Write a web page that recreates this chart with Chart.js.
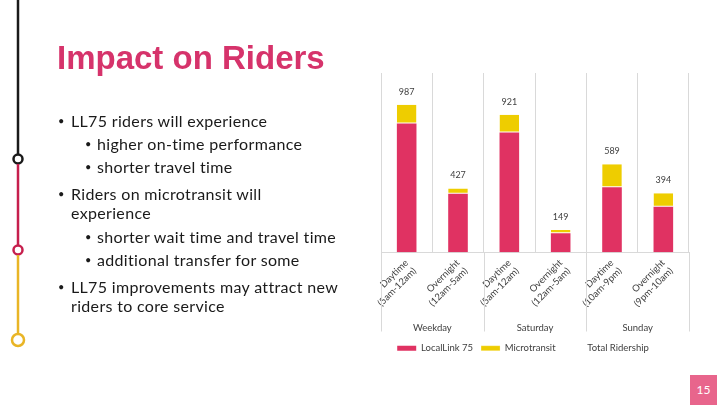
<!DOCTYPE html>
<html>
<head>
<meta charset="utf-8">
<script src="https://cdn.jsdelivr.net/npm/chart.js@4"></script>
<style>
  html,body{margin:0;padding:0;background:#fff;}
  #wrap{position:relative;width:720px;height:405px;overflow:hidden;background:#fff;}
  #c{position:absolute;left:0;top:0;}
  .title{position:absolute;left:57px;top:41px;font-family:"Liberation Sans",Arial,sans-serif;font-weight:bold;font-size:33px;color:#D6336B;white-space:nowrap;line-height:1;}
  .txt{position:absolute;font-family:Lato,"Open Sans",sans-serif;font-size:16px;letter-spacing:0.33px;color:#1a1a1a;white-space:nowrap;line-height:18.7px;}
  .dot{position:absolute;font-family:Lato,sans-serif;font-size:11px;color:#1a1a1a;}
  #page{position:absolute;left:690px;top:375px;width:27px;height:30px;background:#E8658C;color:#fff;font-family:Lato,sans-serif;font-size:12px;text-align:center;line-height:30px;}
  svg{position:absolute;left:0;top:0;}
</style>
</head>
<body>
<div id="wrap">
  <canvas id="c" width="720" height="405"></canvas>
  <svg width="40" height="405">
    <line x1="18" y1="0" x2="18" y2="154" stroke="#1a1a1a" stroke-width="2.5"/>
    <circle cx="18" cy="159" r="4.5" fill="#fff" stroke="#1a1a1a" stroke-width="2.5"/>
    <line x1="18" y1="164" x2="18" y2="245" stroke="#C61F4D" stroke-width="2.5"/>
    <circle cx="18" cy="250" r="4.5" fill="#fff" stroke="#C61F4D" stroke-width="2.5"/>
    <line x1="18" y1="255" x2="18" y2="334" stroke="#E9B526" stroke-width="2.5"/>
    <circle cx="18" cy="340" r="6" fill="#fff" stroke="#E9B526" stroke-width="2.5"/>
  </svg>
  <div class="title">Impact on Riders</div>
  <div class="dot" style="left:58px;top:114px;">•</div>
  <div class="txt" style="left:71px;top:112px;">LL75 riders will experience</div>
  <div class="dot" style="left:85px;top:137px;">•</div>
  <div class="txt" style="left:97px;top:135px;">higher on-time performance</div>
  <div class="dot" style="left:85px;top:160px;">•</div>
  <div class="txt" style="left:97px;top:158px;">shorter travel time</div>
  <div class="dot" style="left:58px;top:187px;">•</div>
  <div class="txt" style="left:71px;top:185px;">Riders on microtransit will<br>experience</div>
  <div class="dot" style="left:85px;top:230px;">•</div>
  <div class="txt" style="left:97px;top:228px;">shorter wait time and travel time</div>
  <div class="dot" style="left:85px;top:253px;">•</div>
  <div class="txt" style="left:97px;top:251px;">additional transfer for some</div>
  <div class="dot" style="left:58px;top:280px;">•</div>
  <div class="txt" style="left:71px;top:278px;">LL75 improvements may attract new<br>riders to core service</div>
  <div id="page">15</div>
</div>
<script>
const categories = [
  ['Daytime','(5am-12am)'],
  ['Overnight','(12am-5am)'],
  ['Daytime','(5am-12am)'],
  ['Overnight','(12am-5am)'],
  ['Daytime','(10am-9pm)'],
  ['Overnight','(9pm-10am)']
];
const groups = ['Weekday','Saturday','Sunday'];
const localLink = [862, 391, 802, 126, 434, 304];
const microtransit = [125, 36, 119, 23, 155, 90];
const totalRidership = [987, 427, 921, 149, 589, 394];

const GRID = '#D9D9D9';
const TXT = '#404040';
const FONT = 'Lato, "Open Sans", sans-serif';

const groupLines = {
  id: 'groupLines',
  afterDraw(chart) {
    const x = chart.scales.x, x2 = chart.scales.x2;
    const ctx = chart.ctx;
    const n = categories.length;
    const w = (x.right - x.left) / n;
    ctx.save();
    ctx.strokeStyle = GRID;
    ctx.lineWidth = 1;
    for (let k = 0; k <= n; k += 2) {
      const px = Math.round(x.left + k * w) + 0.5;
      ctx.beginPath();
      ctx.moveTo(px, chart.chartArea.bottom);
      ctx.lineTo(px, x2.bottom - 2);
      ctx.stroke();
    }
    ctx.restore();
  }
};

const legendShift = {
  id: 'legendShift',
  afterLayout(chart) {
    const lg = chart.legend;
    if (lg) { lg.left -= 12; lg.right -= 12; lg.top += 2; lg.bottom += 2; }
  }
};

const totalLabels = {
  id: 'totalLabels',
  afterDatasetsDraw(chart) {
    const x = chart.scales.x, y = chart.scales.y;
    const ctx = chart.ctx;
    const vals = chart.data.datasets[2].data;
    ctx.save();
    ctx.fillStyle = TXT;
    ctx.font = '9px ' + FONT;
    ctx.textAlign = 'center';
    ctx.textBaseline = 'middle';
    vals.forEach((v, i) => {
      ctx.fillText(String(v), x.getPixelForValue(i), y.getPixelForValue(v) - 13);
    });
    ctx.restore();
  }
};

new Chart(document.getElementById('c'), {
  type: 'bar',
  data: {
    labels: categories,
    datasets: [
      {
        label: 'LocalLink 75',
        data: localLink,
        backgroundColor: '#E03262',
        borderWidth: 0,
        categoryPercentage: 1,
        barPercentage: 0.382
      },
      {
        label: 'Microtransit',
        data: microtransit,
        backgroundColor: '#EECD00',
        borderColor: '#ffffff',
        borderWidth: {top: 0, left: 0, right: 0, bottom: 1},
        borderSkipped: false,
        categoryPercentage: 1,
        barPercentage: 0.382
      },
      {
        type: 'line',
        label: 'Total Ridership',
        data: totalRidership,
        stack: 'total',
        showLine: false,
        pointRadius: 0,
        backgroundColor: 'rgba(0,0,0,0)',
        borderColor: 'rgba(0,0,0,0)',
        borderWidth: 0
      }
    ]
  },
  options: {
    responsive: false,
    animation: false,
    devicePixelRatio: 1,
    layout: { padding: { left: 381, right: 31, top: 73, bottom: 44 } },
    plugins: {
      legend: {
        position: 'bottom',
        labels: {
          boxWidth: 19,
          boxHeight: 5,
          padding: 8,
          color: TXT,
          font: { size: 9.5, family: FONT }
        }
      },
      tooltip: { enabled: false }
    },
    scales: {
      x: {
        stacked: true,
        grid: { color: GRID, offset: true, drawTicks: false },
        border: { color: GRID },
        ticks: {
          color: TXT,
          font: { size: 9.5, family: FONT },
          maxRotation: 45,
          minRotation: 45,
          padding: 5,
          autoSkip: false
        }
      },
      x2: {
        type: 'category',
        labels: groups,
        position: 'bottom',
        grid: { display: false },
        border: { display: false },
        ticks: { color: TXT, font: { size: 9.5, family: FONT }, padding: 0 }
      },
      y: {
        stacked: true,
        display: false,
        min: 0,
        max: 1200
      }
    }
  },
  plugins: [groupLines, totalLabels, legendShift]
});
</script>
</body>
</html>
